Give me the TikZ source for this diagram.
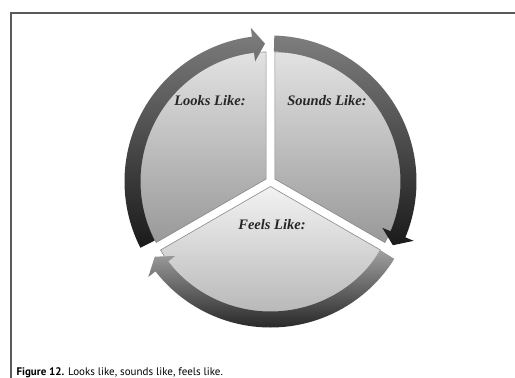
\documentclass[tikz,border=0pt]{standalone}
\usepackage{fontspec}
\setmainfont{Liberation Serif}
\newfontfamily\capfont{PT Sans}
\definecolor{framecol}{HTML}{5A5A5A}
\definecolor{wtop}{HTML}{E2E2E2}
\definecolor{wbot}{HTML}{999999}
\definecolor{btop}{HTML}{F2F2F2}
\definecolor{bbot}{HTML}{B0B0B0}
\definecolor{wline}{HTML}{8A8A8A}
\definecolor{atop}{HTML}{7E7E7E}
\definecolor{abot}{HTML}{1A1A1A}
\definecolor{ctop}{HTML}{A0A0A0}
\definecolor{cbot}{HTML}{262626}
\definecolor{txt}{HTML}{262626}
\newcommand\ringarrow[3]{%
  \shade[#3] (#1:146) arc[start angle=#1, end angle={#2+5}, radius=146]
    -- ({#2+5}:155) -- (#2:138) -- ({#2+5}:121) -- ({#2+5}:130)
    arc[start angle={#2+5}, end angle=#1, radius=130] -- cycle;}
\begin{document}
\begin{tikzpicture}[x=1pt,y=1pt,
  frameline/.style={draw=framecol, line width=1.4pt},
  wedgebox/.style={draw=wline, line width=0.6pt},
  lbl/.style={text=txt, font=\fontsize{14.5}{16}\selectfont\bfseries\itshape}]
\useasboundingbox (0,0) rectangle (515,-378);
\fill[white] (0,0) rectangle (515,-378);
\draw[frameline] (530,-13) -- (11,-13) -- (11,-390);
\coordinate (C) at (270.5,-181.5);
\begin{scope}[shift={(C)}]
  % wedges
  \shadedraw[wedgebox, top color=wtop, bottom color=wbot, shift={(150:5)}]
    (0,0) -- (90:127) arc[start angle=90, end angle=210, radius=127] -- cycle;
  \shadedraw[wedgebox, top color=wtop, bottom color=wbot, shift={(30:5)}]
    (0,0) -- (-30:127) arc[start angle=-30, end angle=90, radius=127] -- cycle;
  \shadedraw[wedgebox, top color=btop, bottom color=bbot, shift={(270:5)}]
    (0,0) -- (210:127) arc[start angle=210, end angle=330, radius=127] -- cycle;
  % ring arrows
  \ringarrow{207}{92.3}{top color=atop, bottom color=abot}
  \ringarrow{88.5}{-27.5}{top color=atop, bottom color=abot}
  \ringarrow{-32}{-147}{top color=ctop, bottom color=cbot}
\end{scope}
\node[lbl] (looks) at (210,-101) {Looks Like:};
\node[lbl] (sounds) at (327,-101) {Sounds Like:};
\node[lbl] (feels) at (272,-225) {Feels Like:};
\node[anchor=base west, text=black, font=\capfont\fontsize{11}{13}\selectfont] (cap) at (13,-375)
  {\textbf{Figure 12.} Looks like, sounds like, feels like.};
\end{tikzpicture}
\end{document}
